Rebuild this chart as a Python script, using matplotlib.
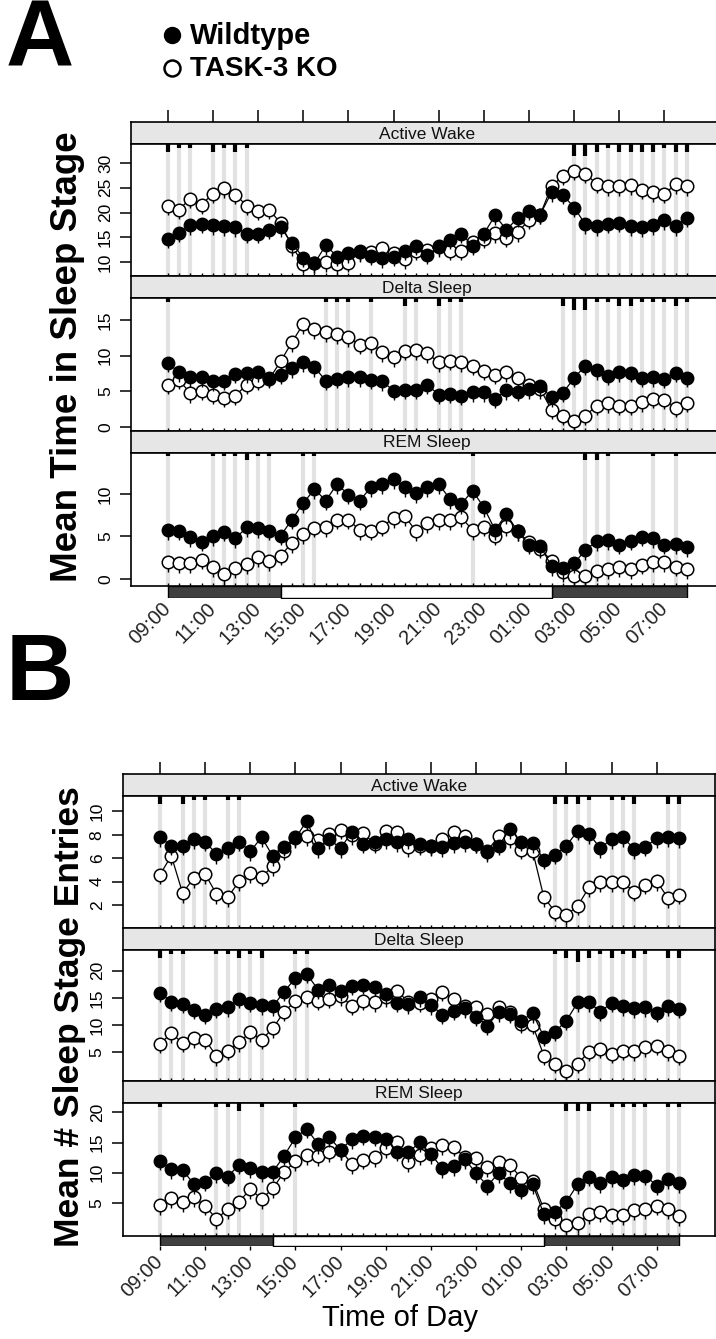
import matplotlib.pyplot as plt
import numpy as np

W, H = 716, 1339
plt.rcParams['font.family'] = ['Liberation Sans', 'DejaVu Sans']

# half-hourly time points, 09:00 -> 08:00 next day
hours = np.arange(9, 32.5, 0.5)
tick_hours = np.arange(9, 32, 2)
tick_labels = ['%02d:00' % (h % 24) for h in tick_hours]
dark_periods = [(9, 14), (26, 32)]
light_periods = [(14, 26)]
stages = ['Active Wake', 'Delta Sleep', 'REM Sleep']

# ---- A: mean time in sleep stage ----
aw_wt_A = [14.7, 15.9, 17.4, 17.7, 17.4, 17.2, 17.0, 15.7, 15.7, 16.5, 17.0,
           13.8, 10.9, 9.7, 13.4, 11.1, 11.8, 12.2, 11.3, 10.8, 11.1,
           12.3, 13.3, 11.5, 13.0, 14.5, 15.7, 13.3, 15.7, 19.4, 16.5,
           18.9, 20.4, 19.6, 24.1, 23.6, 21.0, 17.6, 17.2, 17.7, 17.9,
           17.2, 17.0, 17.4, 18.4, 17.2, 18.9]
aw_ko_A = [21.4, 20.6, 22.8, 21.6, 23.8, 24.9, 23.6, 21.4, 20.4, 20.6, 17.8,
           13.2, 9.6, 9.7, 9.9, 9.5, 9.8, 12.0, 12.0, 12.8, 11.8,
           10.5, 12.3, 12.4, 13.3, 12.3, 12.3, 14.1, 14.7, 15.8, 14.9,
           16.0, 18.5, 19.6, 25.3, 27.4, 28.5, 27.8, 25.8, 25.3, 25.3,
           25.5, 24.6, 24.1, 23.8, 25.7, 25.3]
dl_wt_A = [8.96, 7.65, 6.94, 6.94, 6.38, 6.48, 7.41, 7.50, 7.65, 6.85, 7.27,
           8.25, 9.05, 8.35, 6.48, 6.71, 6.94, 6.94, 6.57, 6.38, 5.07,
           5.21, 5.21, 5.87, 4.51, 4.60, 4.37, 4.84, 4.84, 3.90, 5.16,
           4.93, 5.30, 5.68, 4.13, 4.74, 6.85, 8.58, 7.97, 7.18, 7.65,
           7.55, 6.85, 6.94, 6.71, 7.55, 6.85]
dl_ko_A = [5.87, 6.57, 4.70, 5.07, 4.51, 4.04, 4.37, 5.91, 6.48, 6.71, 9.19,
           11.86, 14.43, 13.73, 13.26, 13.03, 12.56, 11.53, 11.76, 10.45, 9.75,
           10.69, 10.78, 10.31, 9.05, 9.28, 9.05, 8.58, 7.88, 7.32, 7.65,
           6.85, 5.87, 5.30, 2.36, 1.56, 0.86, 1.56, 2.96, 3.29, 2.96,
           2.96, 3.43, 3.90, 3.81, 2.64, 3.34]
rem_wt_A = [5.76, 5.68, 4.90, 4.39, 5.02, 5.56, 4.78, 6.07, 5.99, 5.68, 5.09,
            6.98, 8.90, 10.58, 9.21, 11.17, 9.92, 9.21, 10.78, 11.17, 11.76,
            10.78, 10.11, 10.78, 11.17, 9.41, 8.82, 10.39, 8.43, 5.76, 7.64,
            5.60, 4.03, 3.92, 1.49, 1.25, 1.84, 3.41, 4.43, 4.58, 4.00,
            4.51, 4.98, 4.82, 4.00, 4.11, 3.72]
rem_ko_A = [1.96, 1.88, 1.84, 2.27, 1.37, 0.58, 1.29, 1.76, 2.54, 2.07, 2.74,
            4.23, 5.29, 6.00, 6.07, 6.98, 6.98, 5.76, 5.68, 6.15, 7.17,
            7.41, 5.60, 6.58, 6.94, 6.94, 7.25, 5.76, 6.15, 5.09, 6.19,
            5.60, 4.31, 3.53, 2.15, 0.78, 0.31, 0.39, 0.90, 1.17, 1.37,
            1.17, 1.68, 1.96, 1.96, 1.45, 1.17]

# ---- B: mean number of sleep stage entries ----
aw_wt_B = [7.78, 7.06, 7.06, 7.63, 7.40, 6.35, 6.83, 7.40, 6.58, 7.78, 6.15,
           6.98, 7.69, 9.20, 6.83, 7.63, 6.83, 8.26, 7.21, 7.40, 7.63,
           7.35, 7.63, 7.21, 7.01, 6.92, 7.29, 7.35, 7.21, 6.49, 7.06,
           8.49, 7.40, 7.29, 5.87, 6.29, 7.06, 8.34, 8.06, 6.86, 7.63,
           7.78, 6.78, 6.98, 7.69, 7.78, 7.69]
aw_ko_B = [4.58, 6.21, 3.02, 4.30, 4.64, 2.93, 2.65, 4.01, 4.70, 4.41, 5.30,
           6.64, 7.78, 7.86, 7.58, 8.06, 8.43, 7.97, 8.15, 7.21, 8.34,
           8.20, 6.92, 7.06, 7.06, 7.63, 8.20, 7.92, 7.21, 6.64, 7.86,
           7.69, 6.72, 6.64, 2.65, 1.42, 1.14, 1.93, 3.50, 3.93, 3.93,
           3.93, 3.13, 3.73, 4.01, 2.59, 2.88]
dl_wt_B = [15.90, 14.31, 13.88, 12.84, 11.86, 12.96, 13.27, 14.80, 14.06, 13.69, 13.45,
           16.15, 18.65, 19.39, 16.51, 17.37, 16.21, 17.25, 17.37, 17.07, 15.72,
           14.06, 13.82, 15.10, 13.69, 11.92, 12.65, 13.08, 11.55, 9.90, 12.35,
           12.04, 10.81, 12.16, 7.87, 8.79, 10.81, 14.19, 14.19, 12.47, 14.06,
           13.45, 13.08, 13.27, 12.22, 13.45, 12.96]
dl_ko_B = [6.53, 8.49, 6.71, 7.57, 7.32, 4.26, 5.30, 6.83, 8.67, 7.32, 9.41,
           12.47, 14.37, 15.10, 14.49, 14.80, 15.29, 13.57, 14.49, 14.19, 15.10,
           16.33, 14.19, 14.06, 14.80, 16.15, 14.80, 13.45, 13.27, 12.04, 13.27,
           12.47, 10.20, 10.02, 4.38, 2.85, 1.62, 2.85, 5.12, 5.61, 4.69,
           5.30, 5.18, 5.91, 6.22, 5.18, 4.38]
rem_wt_B = [11.99, 10.61, 10.45, 8.13, 8.51, 9.90, 9.34, 11.33, 10.72, 10.06, 10.17,
            12.82, 15.85, 17.24, 14.75, 15.85, 13.76, 15.58, 16.13, 15.97, 15.58,
            13.48, 13.37, 15.03, 13.10, 10.72, 11.05, 12.27, 9.90, 7.85, 9.95,
            8.24, 7.19, 8.13, 3.16, 3.55, 5.20, 8.13, 9.34, 8.24, 9.23,
            8.85, 9.62, 9.51, 7.85, 8.96, 8.24]
rem_ko_B = [4.65, 5.81, 5.09, 5.92, 4.54, 2.34, 3.99, 5.20, 7.30, 5.65, 7.41,
            10.17, 11.88, 12.93, 12.71, 13.37, 13.76, 11.44, 12.16, 12.54, 14.09,
            15.03, 11.77, 12.88, 14.09, 14.59, 14.31, 12.54, 12.43, 10.89, 11.72,
            11.28, 9.12, 8.68, 3.99, 2.34, 1.40, 1.67, 3.16, 3.44, 3.05,
            3.00, 3.82, 3.99, 4.54, 3.99, 2.78]

# significant time points: index -> level (1..3)
sig_aw_A = {0: 2, 1: 1, 2: 1, 4: 2, 5: 1, 6: 2, 7: 1, 36: 3, 37: 3, 38: 2, 39: 1,
            40: 2, 41: 2, 42: 2, 43: 2, 44: 1, 45: 2, 46: 2}
sig_dl_A = {0: 1, 14: 1, 15: 1, 16: 1, 18: 1, 21: 2, 22: 1, 24: 2, 25: 1, 26: 1,
            35: 2, 36: 3, 37: 3, 38: 1, 39: 1, 40: 2, 41: 2, 42: 1, 43: 1, 44: 1,
            45: 2, 46: 1}
sig_rem_A = {0: 1, 4: 1, 5: 1, 6: 1, 7: 2, 8: 1, 9: 1, 12: 1, 13: 1, 27: 1,
             37: 2, 38: 2, 39: 1, 43: 1, 45: 1}
sig_aw_B = {0: 2, 2: 2, 3: 1, 4: 1, 6: 1, 7: 1, 35: 2, 36: 2, 37: 2, 38: 1,
            40: 1, 41: 1, 42: 2, 45: 2, 46: 2}
sig_dl_B = {0: 2, 1: 1, 2: 1, 5: 1, 6: 1, 7: 2, 8: 1, 9: 2, 12: 1, 13: 1,
            35: 1, 36: 2, 37: 3, 38: 2, 39: 1, 40: 2, 41: 1, 42: 2, 43: 1,
            45: 2, 46: 2}
sig_rem_B = {0: 1, 5: 1, 6: 1, 7: 2, 9: 1, 12: 1, 36: 2, 37: 2, 38: 2, 40: 1,
             41: 1, 42: 1, 43: 1, 45: 1, 46: 1}

fig = plt.figure(figsize=(W / 100, H / 100), dpi=100)


def ax_px(x0, y0, x1, y1, **kw):
    return fig.add_axes([x0 / W, 1 - y1 / H, (x1 - x0) / W, (y1 - y0) / H], **kw)


# overlay in pixel coordinates for letters / legend / labels
ov = ax_px(0, 0, W, H)
ov.set_xlim(0, W)
ov.set_ylim(H, 0)
ov.axis('off')

SIG_LEN = {1: 3.5, 2: 7.5, 3: 11.5}
STRIP_H = 22


def draw_figure(left, right, x9, top, panel_h, ylims, yticks, series, sigs, bar_h, bottom_tick):
    px_per_h = 22.58
    xlim = (9 - (x9 - left) / px_per_h, 9 + (right - x9) / px_per_h)
    y = top
    for k in range(3):
        st = ax_px(left, y, right, y + STRIP_H)
        st.set_facecolor('#e6e6e6')
        st.set_xlim(*xlim)
        st.set_yticks([])
        st.text(0.5, 0.45, stages[k], transform=st.transAxes, ha='center', va='center',
                fontsize=12.5, color='#111111')
        if k == 0:
            st.xaxis.tick_top()
            st.set_xticks(tick_hours)
            st.set_xticklabels([])
            st.tick_params(axis='x', length=8.5, width=1.1, direction='out')
        else:
            st.set_xticks([])
        for s in st.spines.values():
            s.set_linewidth(1.2)
        y += STRIP_H
        ax = ax_px(left, y, right, y + panel_h[k])
        ax.set_xlim(*xlim)
        ax.set_ylim(*ylims[k])
        wt, ko = series[k]
        ah = panel_h[k]
        for i, lev in sigs[k].items():
            ax.axvline(hours[i], color='#e2e2e2', lw=3, zorder=0)
            ax.plot([hours[i]] * 2, [1, 1 - SIG_LEN[lev] / ah], transform=ax.get_xaxis_transform(),
                    color='black', lw=3, solid_capstyle='butt', zorder=1)
        tail = 9.5 * (ylims[k][1] - ylims[k][0]) / ah
        err = [np.full(len(hours), tail), np.zeros(len(hours))]
        ax.errorbar(hours, ko, yerr=err, fmt='-o', color='black', lw=0.9, elinewidth=1.0,
                    capsize=0, ms=9, mfc='white', mec='black', mew=1.1, zorder=3)
        ax.errorbar(hours, wt, yerr=err, fmt='-o', color='black', lw=0.9, elinewidth=1.0,
                    capsize=0, ms=9, mfc='black', mec='black', zorder=4)
        ax.set_yticks(yticks[k])
        ax.set_yticklabels([str(v) for v in yticks[k]], rotation=90, va='center', fontsize=12.5)
        ax.tick_params(axis='y', length=8, width=1.1, pad=5)
        ax.set_xticks(hours, minor=True)
        ax.set_xticks([])
        ax.tick_params(axis='x', which='minor', direction='in', length=2.5, width=1, bottom=True)
        for s in ax.spines.values():
            s.set_linewidth(1.2)
        y += panel_h[k]
    # light/dark bar
    bar = ax_px(left, y, right, y + bar_h)
    bar.set_xlim(*xlim)
    bar.set_ylim(0, 1)
    bar.patch.set_alpha(0)
    for s in bar.spines.values():
        s.set_visible(False)
    bar.broken_barh([(a, b - a) for a, b in dark_periods], (0, 1), facecolors='#404040',
                    edgecolor='black', lw=1)
    bar.broken_barh([(a, b - a) for a, b in light_periods], (0, 1), facecolors='white',
                    edgecolor='black', lw=1)
    bar.set_yticks([])
    bar.set_xticks(tick_hours)
    bar.set_xticklabels(tick_labels, rotation=45, ha='right', va='center', rotation_mode='anchor',
                        fontsize=14.5, color='#222222')
    bar.tick_params(axis='x', length=bottom_tick, width=1, pad=6)


draw_figure(131, 723, 167.7, 122.3, [131.7, 132.7, 133],
            [(7.16, 33.8), (-0.56, 18.09), (-0.79, 14.86)],
            [[10, 15, 20, 25, 30], [0, 5, 10, 15], [0, 5, 10]],
            [(aw_wt_A, aw_ko_A), (dl_wt_A, dl_ko_A), (rem_wt_A, rem_ko_A)],
            [sig_aw_A, sig_dl_A, sig_rem_A], 12, 0)

draw_figure(122.7, 715, 160, 774, [132, 131, 133],
            [(0.03, 11.31), (-0.28, 23.8), (-0.46, 21.54)],
            [[2, 4, 6, 8, 10], [5, 10, 15, 20], [5, 10, 15, 20]],
            [(aw_wt_B, aw_ko_B), (dl_wt_B, dl_ko_B), (rem_wt_B, rem_ko_B)],
            [sig_aw_B, sig_dl_B, sig_rem_B], 10, 3)

# panel letters, legend, axis titles
ov.text(6, 42, 'A', fontsize=68, fontweight='bold', ha='left', va='center')
ov.text(6, 675, 'B', fontsize=68, fontweight='bold', ha='left', va='center')
ov.plot([172], [35], 'o', ms=11.5, mfc='black', mec='black')
ov.plot([172], [68], 'o', ms=11.5, mfc='white', mec='black', mew=1.8)
ov.text(190, 36, 'Wildtype', fontsize=21, fontweight='bold', va='center')
ov.text(190, 69, 'TASK-3 KO', fontsize=20, fontweight='bold', va='center')
ov.text(68, 357, 'Mean Time in Sleep Stage', fontsize=26.5, fontweight='bold', rotation=90,
        ha='center', va='center')
ov.text(70, 1017, 'Mean # Sleep Stage Entries', fontsize=25.5, fontweight='bold', rotation=90,
        ha='center', va='center')
ov.text(400, 1318, 'Time of Day', fontsize=21, ha='center', va='center')

fig.savefig('out.png', dpi=100)
